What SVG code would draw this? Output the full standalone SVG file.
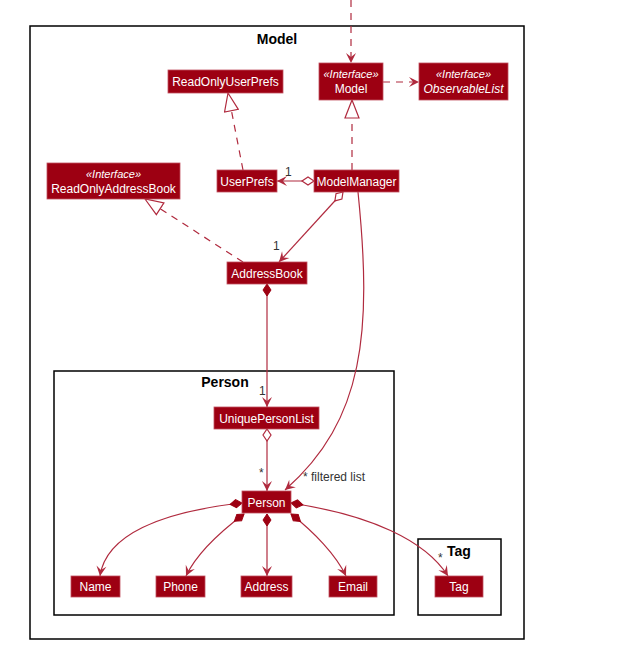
<svg xmlns="http://www.w3.org/2000/svg" width="631" height="648" viewBox="0 0 631 648">
<style>
.pkg{fill:none;stroke:#000;stroke-width:1.5}
.ptitle{font-family:"Liberation Sans",Arial,sans-serif;font-size:14px;font-weight:bold;fill:#000;text-anchor:middle}
.box{fill:#9D0012;stroke:#C05060;stroke-width:0.8}
.lbl{font-family:"Liberation Sans",Arial,sans-serif;font-size:12px;fill:#fff;text-anchor:middle}
.st{font-family:"Liberation Sans",Arial,sans-serif;font-size:11px;font-style:italic;fill:#fff;text-anchor:middle}
.it{font-style:italic}
.e{fill:none;stroke:#B02A3E;stroke-width:1.2}
.d{stroke-dasharray:7,6}
.ml{font-family:"Liberation Sans",Arial,sans-serif;font-size:12px;fill:#333}
</style>
<defs>
<marker id="arr" markerUnits="userSpaceOnUse" viewBox="-11 -6 12 12" refX="0" refY="0" markerWidth="12" markerHeight="12" orient="auto">
<path d="M0,0 L-10,-5 L-6,0 L-10,5 Z" fill="#B02A3E"/>
</marker>
<marker id="tri" markerUnits="userSpaceOnUse" viewBox="-19 -8 20 16" refX="0" refY="0" markerWidth="20" markerHeight="16" orient="auto">
<path d="M0,0 L-18,-7 L-18,7 Z" fill="#fff" stroke="#B02A3E" stroke-width="1.2"/>
</marker>
<marker id="odia" markerUnits="userSpaceOnUse" viewBox="-1 -6 15 12" refX="0" refY="0" markerWidth="15" markerHeight="12" orient="auto">
<path d="M0,0 L6,-4 L12,0 L6,4 Z" fill="#fff" stroke="#B02A3E" stroke-width="1.2"/>
</marker>
<marker id="fdia" markerUnits="userSpaceOnUse" viewBox="-1 -6 15 12" refX="0" refY="0" markerWidth="15" markerHeight="12" orient="auto">
<path d="M0,0 L6,-4 L12,0 L6,4 Z" fill="#9D0012" stroke="#9D0012" stroke-width="1"/>
</marker>
</defs>

<g id="pkg-model">
<rect class="pkg" x="30" y="26" width="494" height="613"/>
<text class="ptitle" x="277" y="44">Model</text>
</g>
<g id="pkg-person">
<rect class="pkg" x="54" y="371" width="340" height="244"/>
<text class="ptitle" x="225" y="387">Person</text>
</g>
<g id="pkg-tag">
<rect class="pkg" x="418" y="539" width="83" height="76"/>
<text class="ptitle" x="459" y="556">Tag</text>
</g>

<g id="connectors">
<path class="e d" d="M351,0 L351,63" marker-end="url(#arr)"/>
<path class="e d" d="M383,82 L419,82" marker-end="url(#arr)"/>
<path class="e d" d="M243,170 L228,93" marker-end="url(#tri)"/>
<path class="e d" d="M352,170 L352,100" marker-end="url(#tri)"/>
<path class="e d" d="M243,262 L145,199" marker-end="url(#tri)"/>
<path class="e" d="M314,181 L277,181" marker-start="url(#odia)" marker-end="url(#arr)"/>
<text class="ml" x="285" y="176">1</text>
<path class="e" d="M343,192 L279,262" marker-start="url(#odia)" marker-end="url(#arr)"/>
<text class="ml" x="273" y="250">1</text>
<path class="e" d="M358,192 C372,330 365,420 285,490" marker-end="url(#arr)"/>
<text class="ml" x="303" y="481">* filtered list</text>
<path class="e" d="M267,284 L267,407" marker-start="url(#fdia)" marker-end="url(#arr)"/>
<text class="ml" x="259" y="395">1</text>
<path class="e" d="M267,429 L267,491" marker-start="url(#odia)" marker-end="url(#arr)"/>
<text class="ml" x="259" y="477">*</text>
<path class="e" d="M242,503 C160,512 106,535 100,576" marker-start="url(#fdia)" marker-end="url(#arr)"/>
<path class="e" d="M244,514 C220,532 196,555 186,576" marker-start="url(#fdia)" marker-end="url(#arr)"/>
<path class="e" d="M267,514 L267,576" marker-start="url(#fdia)" marker-end="url(#arr)"/>
<path class="e" d="M291,514 C314,532 336,555 346,576" marker-start="url(#fdia)" marker-end="url(#arr)"/>
<path class="e" d="M291,503 C370,515 425,540 448,576" marker-start="url(#fdia)" marker-end="url(#arr)"/>
<text class="ml" x="438" y="562">*</text>
</g>

<g id="node-readonlyuserprefs">
<rect class="box" x="168" y="70" width="115" height="23"/>
<text class="lbl" x="225.5" y="86">ReadOnlyUserPrefs</text>
</g>
<g id="node-model">
<rect class="box" x="319" y="63" width="64" height="37"/>
<text class="st" x="351" y="78">«Interface»</text>
<text class="lbl" x="351" y="93">Model</text>
</g>
<g id="node-observablelist">
<rect class="box" x="419" y="63" width="89" height="37"/>
<text class="st" x="463.5" y="78">«Interface»</text>
<text class="lbl it" x="463.5" y="93">ObservableList</text>
</g>
<g id="node-readonlyaddressbook">
<rect class="box" x="47" y="163" width="133" height="36"/>
<text class="st" x="113.5" y="178">«Interface»</text>
<text class="lbl" x="113.5" y="193">ReadOnlyAddressBook</text>
</g>
<g id="node-userprefs">
<rect class="box" x="217" y="170" width="60" height="22"/>
<text class="lbl" x="247" y="186">UserPrefs</text>
</g>
<g id="node-modelmanager">
<rect class="box" x="314" y="170" width="85" height="22"/>
<text class="lbl" x="356.5" y="186">ModelManager</text>
</g>
<g id="node-addressbook">
<rect class="box" x="227" y="262" width="80" height="22"/>
<text class="lbl" x="267" y="278">AddressBook</text>
</g>
<g id="node-uniquepersonlist">
<rect class="box" x="214" y="407" width="105" height="22"/>
<text class="lbl" x="266.5" y="423">UniquePersonList</text>
</g>
<g id="node-person">
<rect class="box" x="242" y="491" width="49" height="22"/>
<text class="lbl" x="266.5" y="507">Person</text>
</g>
<g id="node-name">
<rect class="box" x="71" y="576" width="49" height="21"/>
<text class="lbl" x="95.5" y="591">Name</text>
</g>
<g id="node-phone">
<rect class="box" x="156" y="576" width="49" height="21"/>
<text class="lbl" x="180.5" y="591">Phone</text>
</g>
<g id="node-address">
<rect class="box" x="241" y="576" width="51" height="21"/>
<text class="lbl" x="266.5" y="591">Address</text>
</g>
<g id="node-email">
<rect class="box" x="329" y="576" width="48" height="21"/>
<text class="lbl" x="353" y="591">Email</text>
</g>
<g id="node-tag">
<rect class="box" x="435" y="576" width="48" height="21"/>
<text class="lbl" x="459" y="591">Tag</text>
</g>
</svg>
